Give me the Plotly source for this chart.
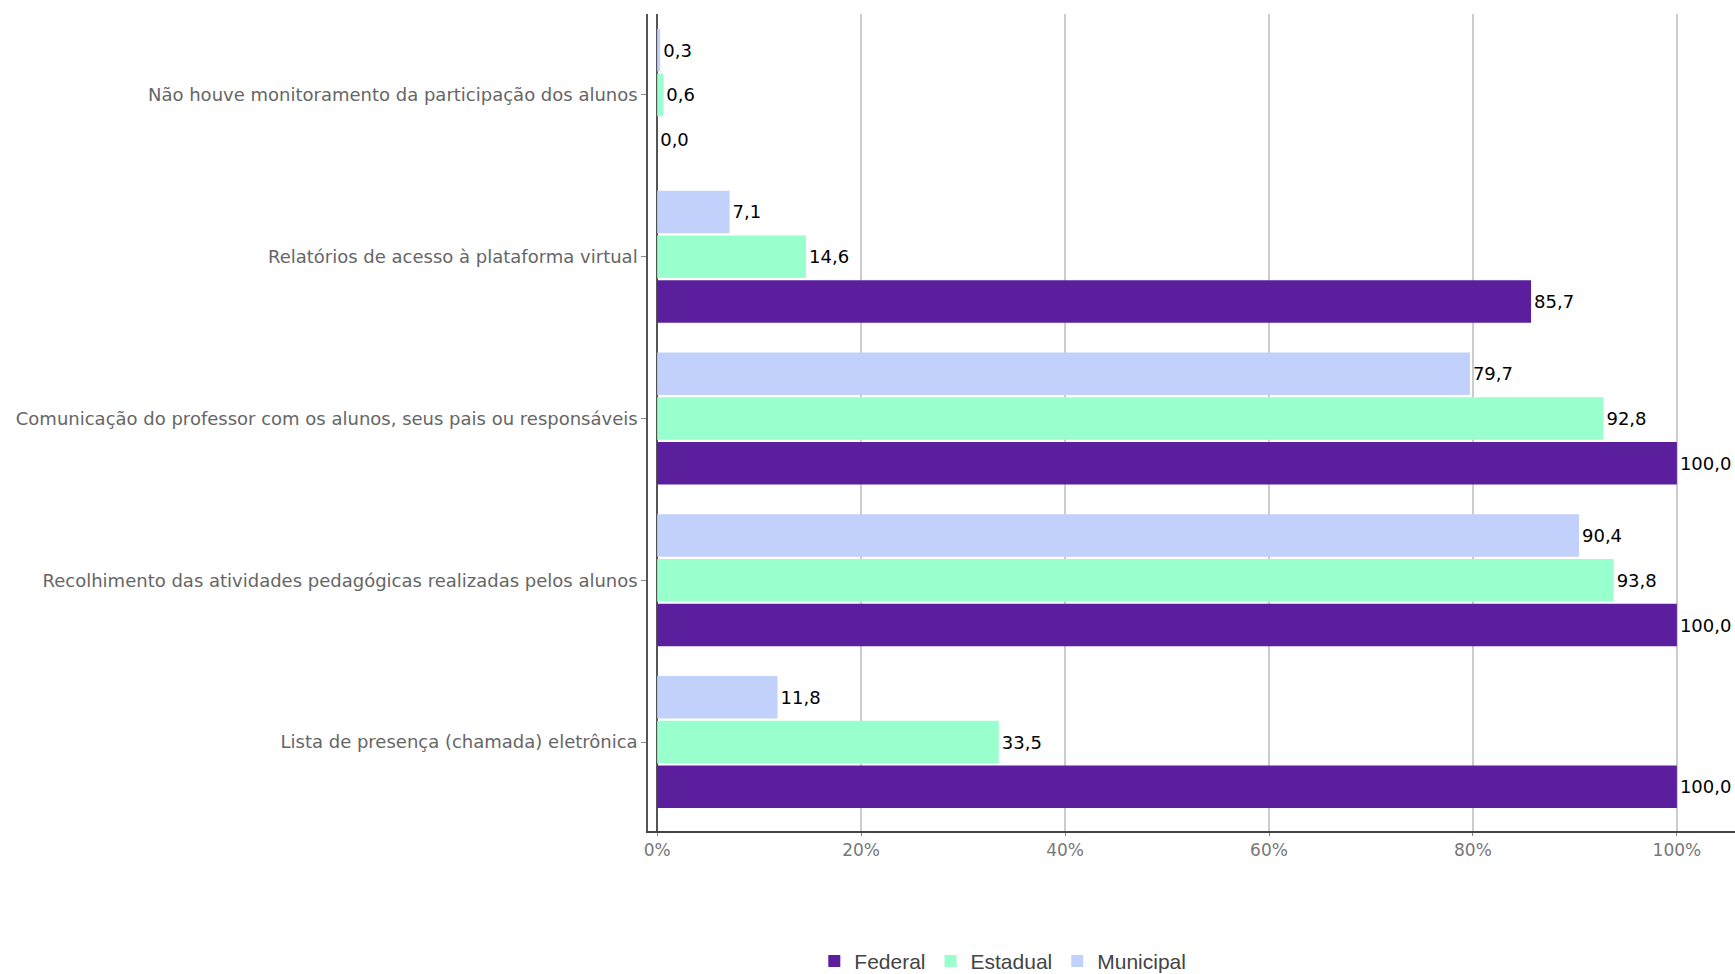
import plotly.graph_objects as go

categories = [
    "Lista de presença (chamada) eletrônica",
    "Recolhimento das atividades pedagógicas realizadas pelos alunos",
    "Comunicação do professor com os alunos, seus pais ou responsáveis",
    "Relatórios de acesso à plataforma virtual",
    "Não houve monitoramento da participação dos alunos",
]
federal = [100.0, 100.0, 100.0, 85.7, 0.0]
estadual = [33.5, 93.8, 92.8, 14.6, 0.6]
municipal = [11.8, 90.4, 79.7, 7.1, 0.3]
series_names = ["Federal", "Estadual", "Municipal"]
colors = ["#5b1e9c", "#99ffcc", "#c2d1fc"]
tick_vals = [0, 20, 40, 60, 80, 100]
tick_text = ["0%", "20%", "40%", "60%", "80%", "100%"]

def fmt(v):
    return f"{v:.1f}".replace(".", ",")

fig = go.Figure()
for name, vals, col in zip(series_names, [federal, estadual, municipal], colors):
    fig.add_trace(go.Bar(
        y=categories, x=vals, name=name, orientation="h",
        marker=dict(color=col, line=dict(width=0)),
        text=[fmt(v) for v in vals], textposition="outside",
        textfont=dict(family="DejaVu Sans", size=18, color="#000000"),
        cliponaxis=False,
    ))

fig.update_layout(
    width=1735, height=974,
    barmode="group", bargap=0.17, bargroupgap=0.05,
    plot_bgcolor="white", paper_bgcolor="white",
    margin=dict(l=648, r=0, t=14, b=143, autoexpand=False),
    font=dict(family="DejaVu Sans"),
    legend=dict(orientation="h", x=0.153, xanchor="left", y=-0.1345, yanchor="top",
                font=dict(family="Liberation Sans", size=21, color="#444444"),
                itemwidth=30, tracegroupgap=0),
    xaxis=dict(range=[-0.9, 105.7], tickvals=tick_vals, ticktext=tick_text,
               showgrid=True, gridcolor="#cccccc", gridwidth=1.5,
               zeroline=True, zerolinecolor="#555555", zerolinewidth=1.5,
               showline=True, linecolor="#444444", linewidth=2,
               ticks="outside", ticklen=3, tickcolor="#888888",
               tickfont=dict(family="DejaVu Sans", size=17, color="#777777")),
    yaxis=dict(range=[-0.55, 4.5], showline=True, linecolor="#555555", linewidth=1.5,
               ticks="outside", ticklen=5, tickcolor="#888888",
               tickfont=dict(family="DejaVu Sans", size=18, color="#666666")),
)

fig.write_html("out.html", config={"displayModeBar": False},
               post_script="document.body.style.margin='0';document.body.style.overflow='hidden';")
